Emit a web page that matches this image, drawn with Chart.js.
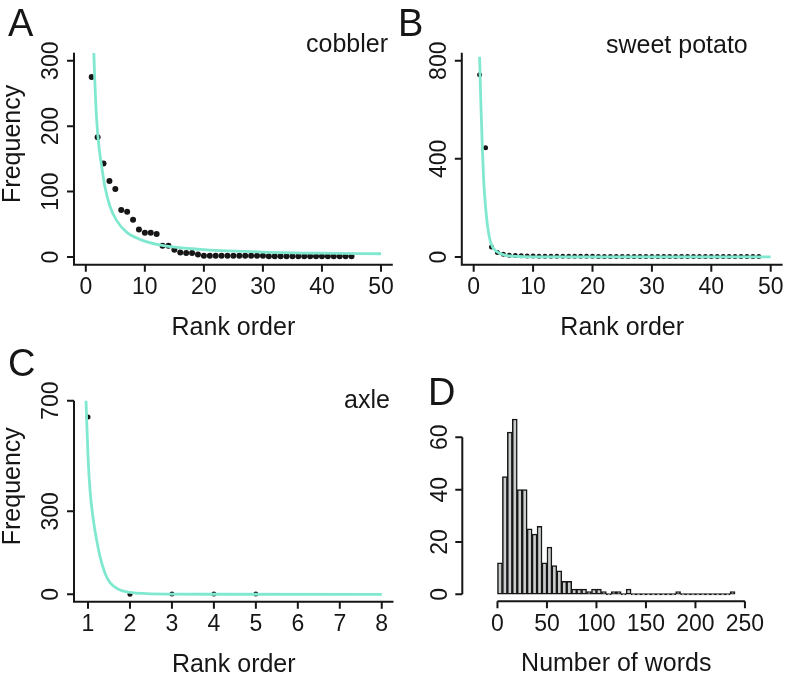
<!DOCTYPE html>
<html>
<head>
<meta charset="utf-8">
<script src="https://cdn.jsdelivr.net/npm/chart.js@4.4.1/dist/chart.umd.min.js"></script>
<style>
  html, body { margin: 0; padding: 0; background: #fff; }
  #wrap { position: relative; width: 796px; height: 679px; overflow: hidden; }
  #wrap canvas { position: absolute; display: block; }
</style>
</head>
<body>
<div id="wrap">
  <canvas id="chartA" width="398" height="340" style="left:0;top:0"></canvas>
  <canvas id="chartB" width="398" height="340" style="left:398px;top:0"></canvas>
  <canvas id="chartC" width="398" height="339" style="left:0;top:340px"></canvas>
  <canvas id="chartD" width="398" height="339" style="left:398px;top:340px"></canvas>
</div>
<script>
const FONT = '"Liberation Sans", Arial, sans-serif';
const INK = '#161616';
const MINT = '#80e8cf';

// ---- A: cobbler (frequency by rank, fitted curve) ----
const freqA = [275, 183, 143, 116, 104, 72, 69, 57, 42, 37, 37, 35, 17, 17, 11, 7, 6, 6, 4,
  2, 2, 2, 2, 2, 2, 2, 2, 2, 2, 2, 1, 1, 1, 1, 1, 1, 1, 1, 1, 1, 1, 1, 1, 1, 1];
const fitAx = [1.36, 1.5, 1.7, 2.0, 2.3, 2.66, 3.22, 4.07, 5.2, 6.9, 9.15, 12.5, 19.3, 30, 40, 50];
const fitAy = [312, 275, 232, 190, 163, 140, 108, 78, 56, 38, 27, 18.5, 11.7, 7.6, 5.8, 5];
const xTicksA = [0, 10, 20, 30, 40, 50];
const yTicksA = [0, 100, 200, 300];

// ---- B: sweet potato ----
const freqB = [743, 445, 41, 18, 11, 7, 6, 5, 4, 4, 3, 3, 3, 3, 3, 3, 3, 3, 3, 3,
  2, 2, 2, 2, 2, 2, 2, 2, 2, 2, 2, 2, 2, 2, 2, 2, 2, 2, 2, 2, 2, 2, 2, 2, 2, 2, 2, 2];
const fitBx = [1.0, 1.1, 1.23, 1.45, 1.68, 2.0, 2.35, 2.9, 3.87, 5.27, 7.5, 10, 20, 50];
const fitBy = [816, 715, 612, 450, 314, 205, 124, 56, 22, 8, 2, 0.8, 0.3, 0.2];
const xTicksB = [0, 10, 20, 30, 40, 50];
const yTicksB = [0, 400, 800];

// ---- C: axle ----
const freqC = [641, 0, 1, 1, 1];
const fitCx = [0.952, 1.0, 1.048, 1.127, 1.206, 1.286, 1.405, 1.524, 1.723, 2.0, 2.4, 3, 4, 8];
const fitCy = [702, 497, 377, 268, 196, 136, 76, 42, 18, 7, 2.6, 0.8, 0.2, 0];
const xTicksC = [1, 2, 3, 4, 5, 6, 7, 8];
const yTicksC = [0, 300, 700];

// ---- D: histogram of number of words (bins of 5) ----
const binWidth = 5;
const countsD = [12, 45, 62, 67, 40, 40, 25, 23, 26, 12, 18, 11, 9, 5, 5, 2, 2, 2, 1, 2,
  2, 1, 0, 1, 1, 0, 2, 0, 0, 0, 0, 0, 0, 0, 0, 0, 1, 0, 0, 0, 0, 0, 0, 0, 0, 0, 0, 1];
const xTicksD = [0, 50, 100, 150, 200, 250];
const yTicksD = [0, 20, 40, 60];

// R-style axes, titles and panel labels drawn on the library's scales
const rAxes = {
  id: 'rAxes',
  afterDraw(chart, args, o) {
    const { ctx, chartArea: ca } = chart;
    const sx = chart.scales.x, sy = chart.scales.y;
    ctx.save();
    ctx.strokeStyle = INK;
    ctx.fillStyle = INK;
    ctx.lineWidth = 2;
    const xAxisY = ca.bottom, yAxisX = ca.left;
    let x0, x1, y0, y1;
    if (o.box) {
      x0 = ca.left; x1 = ca.right; y0 = ca.top; y1 = ca.bottom;
    } else {
      x0 = sx.getPixelForValue(o.xTicks[0]);
      x1 = sx.getPixelForValue(o.xTicks[o.xTicks.length - 1]);
      y0 = sy.getPixelForValue(o.yTicks[o.yTicks.length - 1]);
      y1 = sy.getPixelForValue(o.yTicks[0]);
    }
    ctx.beginPath();
    ctx.moveTo(x0 - (o.box ? 1 : 0), xAxisY);
    ctx.lineTo(x1, xAxisY);
    ctx.moveTo(yAxisX, y0);
    ctx.lineTo(yAxisX, y1 + (o.box ? 1 : 0));
    // ticks
    o.xTicks.forEach(v => {
      const px = sx.getPixelForValue(v);
      ctx.moveTo(px, xAxisY);
      ctx.lineTo(px, xAxisY + 7);
    });
    o.yTicks.forEach(v => {
      const py = sy.getPixelForValue(v);
      ctx.moveTo(yAxisX, py);
      ctx.lineTo(yAxisX - 7, py);
    });
    ctx.stroke();

    // tick labels
    ctx.font = '23px ' + FONT;
    ctx.textAlign = 'center';
    ctx.textBaseline = 'middle';
    o.xTicks.forEach(v => {
      ctx.fillText(String(v), sx.getPixelForValue(v), xAxisY + 23);
    });
    o.yTicks.forEach(v => {
      ctx.save();
      ctx.translate(yAxisX - 22, sy.getPixelForValue(v));
      ctx.rotate(-Math.PI / 2);
      ctx.fillText(String(v), 0, 0);
      ctx.restore();
    });

    // axis titles
    ctx.font = '25px ' + FONT;
    if (o.xTitle) ctx.fillText(o.xTitle, (ca.left + ca.right) / 2, xAxisY + 63);
    if (o.yTitle) {
      ctx.save();
      ctx.translate(yAxisX - 61, (ca.top + ca.bottom) / 2 - 15);
      ctx.rotate(-Math.PI / 2);
      ctx.fillText(o.yTitle, 0, 0);
      ctx.restore();
    }

    // panel letter and word
    ctx.textAlign = 'left';
    ctx.textBaseline = 'alphabetic';
    ctx.font = '38px ' + FONT;
    ctx.fillText(o.letter[0], o.letter[1], o.letter[2]);
    if (o.word) {
      ctx.font = '25px ' + FONT;
      ctx.fillText(o.word[0], o.word[1], o.word[2]);
    }
    ctx.restore();
  }
};

function rankChart(id, freq, fx, fy, xr, yr, pad, axes, dotR) {
  return new Chart(document.getElementById(id), {
    type: 'scatter',
    data: {
      datasets: [
        {
          type: 'line',
          data: fx.map((x, i) => ({ x, y: fy[i] })),
          borderColor: MINT,
          borderWidth: 2.8,
          pointRadius: 0,
          fill: false,
          cubicInterpolationMode: 'monotone'
        },
        {
          data: freq.map((y, i) => ({ x: i + 1, y })),
          backgroundColor: INK,
          borderWidth: 0,
          pointRadius: dotR
        }
      ]
    },
    options: {
      responsive: false,
      animation: false,
      layout: { padding: pad },
      plugins: { legend: { display: false }, tooltip: { enabled: false }, rAxes: axes },
      scales: {
        x: { type: 'linear', min: xr[0], max: xr[1], display: false },
        y: { type: 'linear', min: yr[0], max: yr[1], display: false }
      }
    },
    plugins: [rAxes]
  });
}

rankChart('chartA', freqA, fitAx, fitAy, [-2, 52], [-12, 312],
  { left: 74, right: 5.2, top: 52.85, bottom: 75.15 },
  { box: true, xTicks: xTicksA, yTicks: yTicksA, xTitle: 'Rank order', yTitle: 'Frequency',
    letter: ['A', 8, 36], word: ['cobbler', 306, 52] }, 3);

rankChart('chartB', freqB, fitBx, fitBy, [-2, 52], [-32, 832],
  { left: 63.8, right: 13.4, top: 52.85, bottom: 75.15 },
  { box: true, xTicks: xTicksB, yTicks: yTicksB, xTitle: 'Rank order',
    letter: ['B', 0, 36], word: ['sweet potato', 208, 53] }, 2.5);

rankChart('chartC', freqC, fitCx, fitCy, [0.666, 8.28], [-26.9, 700],
  { left: 74, right: 4.5, top: 60.7, bottom: 77.26 },
  { box: true, xTicks: xTicksC, yTicks: yTicksC, xTitle: 'Rank order', yTitle: 'Frequency',
    letter: ['C', 8, 36], word: ['axle', 344, 68] }, 2.5);

new Chart(document.getElementById('chartD'), {
  type: 'bar',
  data: {
    datasets: [{
      data: countsD.map((y, i) => ({ x: i * binWidth + binWidth / 2, y })),
      backgroundColor: '#c9cccc',
      borderColor: INK,
      borderWidth: 1.5,
      borderSkipped: false,
      barPercentage: 1,
      categoryPercentage: 1,
      minBarLength: 1.4
    }]
  },
  options: {
    responsive: false,
    animation: false,
    layout: { padding: { left: 64.3, right: 25.8, top: 72, bottom: 77.7 } },
    plugins: {
      legend: { display: false }, tooltip: { enabled: false },
      rAxes: { box: false, xTicks: xTicksD, yTicks: yTicksD, xTitle: 'Number of words',
        letter: ['D', 30, 65] }
    },
    scales: {
      x: { type: 'linear', min: -9.6, max: 249.6, display: false },
      y: { type: 'linear', min: -2.68, max: 69.68, display: false }
    }
  },
  plugins: [rAxes]
});
</script>
</body>
</html>
